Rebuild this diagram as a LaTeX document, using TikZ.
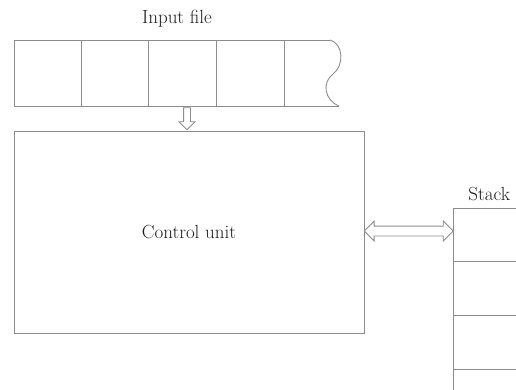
\documentclass[tikz,border=0pt]{standalone}
\usetikzlibrary{shapes.arrows,calc}
\definecolor{linegray}{RGB}{140,140,140}
\definecolor{textgray}{RGB}{30,30,30}
\begin{document}
\begin{tikzpicture}[x=1pt,y=-1pt,line width=0.9pt,
  ln/.style={draw=linegray},
  lbl/.style={font=\fontsize{19}{22}\selectfont, text=textgray, inner sep=0pt},
  hollowarrow/.style={draw=linegray, inner sep=0pt}]
\useasboundingbox (0,0) rectangle (516,390);
% input tape
\draw[ln] (330,40) -- (14,40) -- (14,106) -- (339,106);
\draw[ln] (330,40) .. controls (344,44) and (344,66) .. (333,74) .. controls (322,82) and (324,100) .. (339,106);
\foreach \x in {81,148,216,284} \draw[ln] (\x,40) -- (\x,106);
\node[lbl, anchor=base] (inlbl) at (177,24) {Input file};
\coordinate (tapebot) at (187,106);
% control unit
\node[ln, lbl, minimum width=350pt, minimum height=202pt] (cu) at (189,232) {Control unit};
% down arrow
\coordinate (cutop) at (187,128);
\node[hollowarrow, single arrow, rotate=-90, minimum height=22pt, text width=0pt,
      inner xsep=0pt, inner ysep=3pt, single arrow head extend=4.5pt] (down) at ($(tapebot)!0.5!(cutop)$) {};
% stack
\coordinate (stk) at (453,231);
\draw[ln] (516,208) -- (453,208) -- (453,390);
\foreach \y in {261,315,369} \draw[ln] (453,\y) -- (516,\y);
\node[lbl, anchor=base west] (stklbl) at (468,200) {Stack};
% double arrow
\node[hollowarrow, double arrow, minimum height=89pt, text width=0pt, inner ysep=4.5pt,
      double arrow head extend=5pt] (both) at ($(cu.east |- stk)!0.5!(stk)$) {};
\end{tikzpicture}
\end{document}
